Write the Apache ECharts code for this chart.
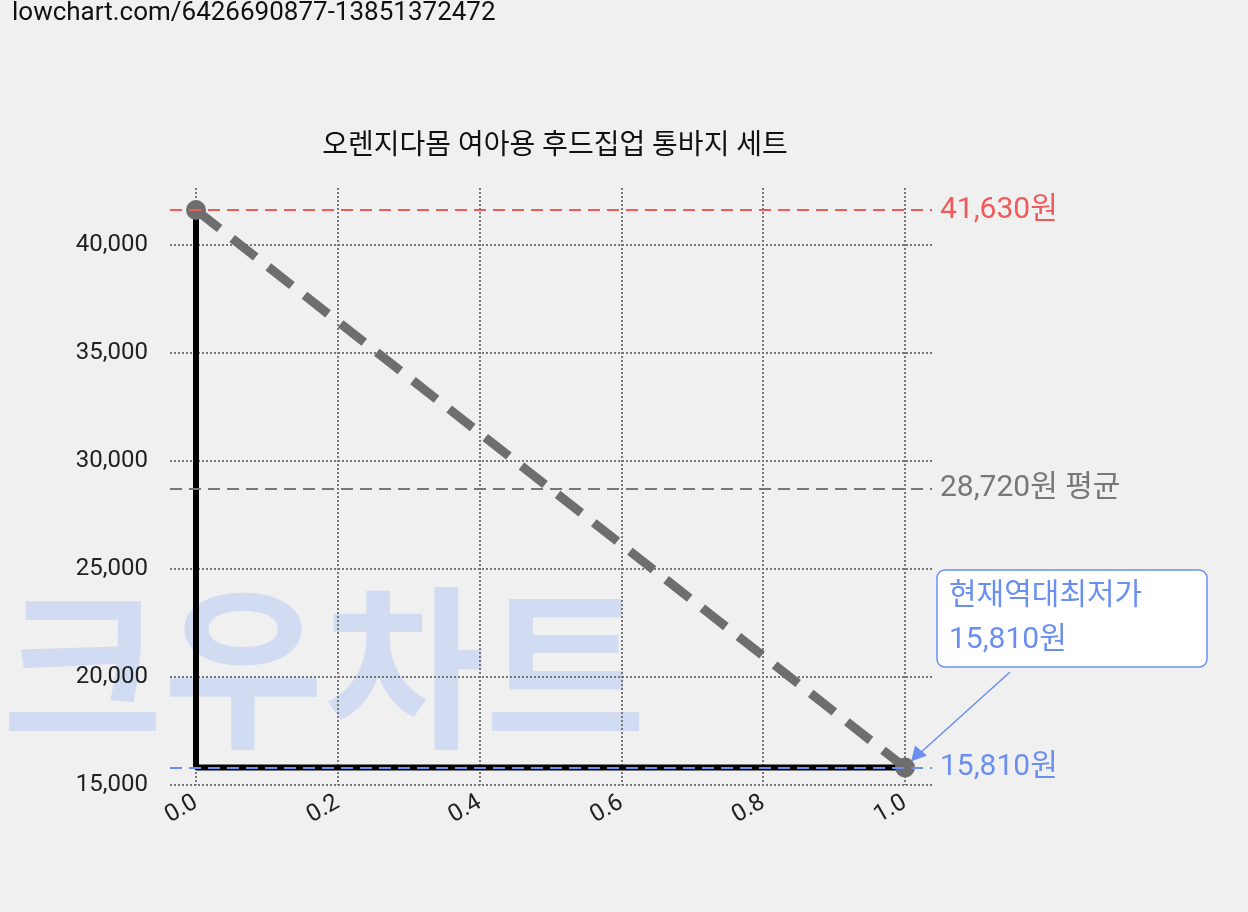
<!DOCTYPE html>
<html><head><meta charset="utf-8">
<script src="https://cdn.jsdelivr.net/npm/echarts@6/dist/echarts.min.js"></script>
<style>html,body{margin:0;padding:0;background:#f0f0f0}#c{width:1248px;height:912px}</style>
</head><body><div id="c"></div>
<script>
const xs = [0, 1];
const prices = [41630, 15810];
const maxPrice = 41630, avgPrice = 28720, minPrice = 15810;
const titleText = '오렌지다몸 여아용 후드집업 통바지 세트';
const urlText = 'lowchart.com/6426690877-13851372472';
const F = 'Roboto, "Noto Sans CJK KR", sans-serif';
const chart = echarts.init(document.getElementById('c'));
const fmt = v => v.toLocaleString('en-US');
const yMin = 15000, yMax = 42650;
chart.setOption({
  backgroundColor: '#f0f0f0',
  animation: false,
  title: {text: titleText, left: 550, top: 128, textAlign: 'center', textStyle: {fontFamily: F, fontSize: 28, fontWeight: 'normal', color: '#111'}},
  grid: [{left: 196, right: 343, top: 188, bottom: 127}, {left: 170, right: 316, top: 188, bottom: 127}],
  xAxis: [
    {gridIndex: 0, type: 'value', min: 0, max: 1, interval: 0.2,
      axisLine: {show: false}, axisTick: {show: false},
      axisLabel: {rotate: 30, fontFamily: F, fontSize: 24, color: '#222', margin: 16, formatter: v => v.toFixed(1)},
      splitLine: {show: true, lineStyle: {type: 'dotted', color: '#777', width: 2}}},
    {gridIndex: 1, type: 'value', min: 0, max: 1, show: false, splitLine: {show: false}}
  ],
  yAxis: [
    {gridIndex: 0, type: 'value', min: yMin, max: yMax, show: false, splitLine: {show: false}},
    {gridIndex: 1, type: 'value', min: yMin, max: yMax, interval: 5000,
      axisLine: {show: false}, axisTick: {show: false},
      axisLabel: {fontFamily: F, fontSize: 24, color: '#222', margin: 22, formatter: v => v % 5000 === 0 ? fmt(v) : ''},
      splitLine: {show: true, showMaxLine: false, lineStyle: {type: 'dotted', color: '#777', width: 2}}}
  ],
  graphic: [
    {type: 'text', left: 12, top: 0, z: 100, style: {text: urlText, fontSize: 26, fontFamily: F, fill: '#111'}},
    {type: 'text', left: 2, top: 580, z: -1, silent: true, style: {text: '크우차트', fontSize: 175, fontWeight: 'bold', fontFamily: '"Noto Sans CJK KR", sans-serif', fill: 'rgba(170,195,245,0.45)'}}
  ],
  series: [
    {type: 'line', xAxisIndex: 1, yAxisIndex: 1, data: [], symbol: 'none',
      markLine: {silent: true, symbol: 'none',
        data: [
          {yAxis: maxPrice, lineStyle: {color: '#f05a5a', type: [12, 7], width: 2}, label: {formatter: fmt(maxPrice) + '원', color: '#f05a5a'}},
          {yAxis: avgPrice, lineStyle: {color: '#777', type: [12, 7], width: 2}, label: {formatter: fmt(avgPrice) + '원 평균', color: '#777'}},
          {yAxis: minPrice, lineStyle: {color: '#6a8ff0', type: [12, 7], width: 2}, label: {formatter: fmt(minPrice) + '원', color: '#6a8ff0'}}
        ],
        label: {position: 'end', fontFamily: F, fontSize: 30, distance: 8}}},
    {type: 'line', clip: false, data: [[xs[0], prices[0]], [xs[0], prices[1]], [xs[1], prices[1]]],
      symbol: 'none', lineStyle: {color: '#000', width: 6}, z: 3},
    {type: 'line', clip: false, data: xs.map((x, i) => [x, prices[i]]),
      symbol: 'circle', symbolSize: 20, itemStyle: {color: '#6e6e6e'},
      lineStyle: {color: '#6e6e6e', width: 9, type: [30, 16]}, z: 4}
  ]
});
const p = chart.convertToPixel({gridIndex: 0}, [xs[1], prices[1]]);
chart.setOption({graphic: [{}, {},
  {type: 'group', z: 10, children: [
    {type: 'line', shape: {x1: 1010, y1: 672, x2: p[0] + 8, y2: p[1] - 8}, style: {stroke: '#6a8ff0', lineWidth: 1.5}},
    {type: 'polygon', shape: {points: [[p[0] + 6, p[1] - 6], [p[0] + 10, p[1] - 22], [p[0] + 22, p[1] - 12]]}, style: {fill: '#6a8ff0'}},
    {type: 'rect', shape: {x: 937, y: 570, width: 270, height: 97, r: 8}, style: {fill: '#fff', stroke: '#6a8ff0', lineWidth: 1.5}},
    {type: 'text', x: 949, y: 574, style: {text: '현재역대최저가\n' + fmt(minPrice) + '원', fontSize: 30, fontFamily: F, fill: '#6a8ff0', lineHeight: 44}}
  ]}]});
</script></body></html>
